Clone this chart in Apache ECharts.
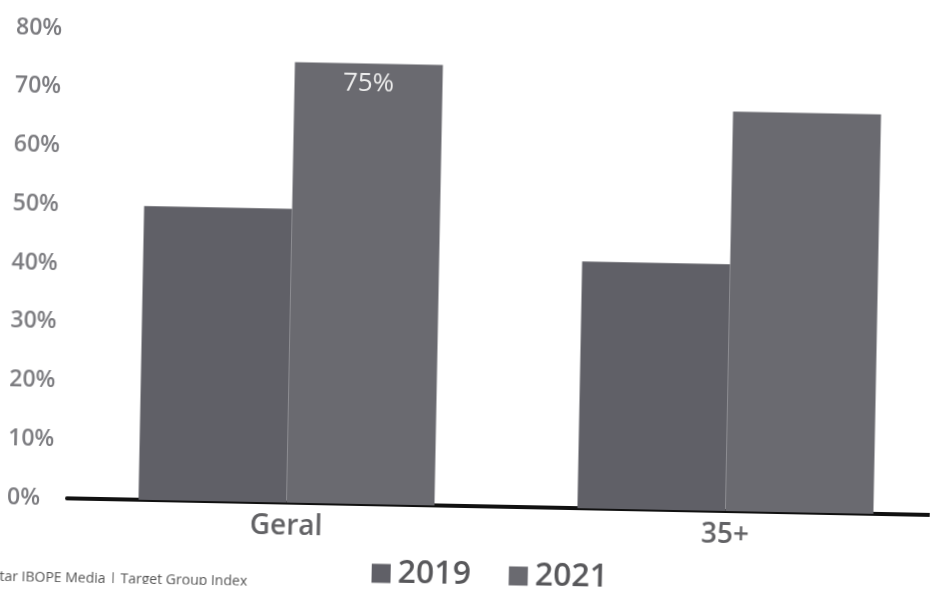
<!DOCTYPE html>
<html>
<head>
<meta charset="utf-8">
<script src="https://cdn.jsdelivr.net/npm/echarts@6/dist/echarts.min.js"></script>
<style>
  html, body { margin: 0; padding: 0; background: #ffffff; overflow: hidden; }
  #chart { width: 934px; height: 590px; transform: rotate(1.1deg); transform-origin: 50% 50%; }
</style>
</head>
<body>
<div id="chart"></div>
<script>
// Categories, series and tick settings
const categories = ['Geral', '35+'];
const years = ['2019', '2021'];
const values2019 = [50, 42];
const values2021 = [75, 68];
// which bars carry a value label (per category) for the 2021 series
const labelled2021 = [true, false];
const yTicks = { min: 0, max: 80, step: 10 };
const sourceNote = 'Kantar IBOPE Media | Target Group Index';

const colors = ['#606067', '#6a6a70'];
const font = '"Open Sans", "Noto Sans", sans-serif';

const chart = echarts.init(document.getElementById('chart'), null, { renderer: 'canvas' });

chart.setOption({
  animation: false,
  backgroundColor: '#ffffff',
  color: colors,
  // the plot runs past the right edge, so the axis line reaches the border
  grid: { left: 71, width: 878, top: 36, bottom: 84, containLabel: false, outerBoundsMode: 'none' },
  legend: {
    data: years,
    bottom: -6,
    left: 372,
    itemWidth: 19,
    itemHeight: 19,
    itemGap: 38,
    icon: 'rect',
    textStyle: { fontFamily: font, fontSize: 32, fontWeight: 600, color: '#58585b', padding: [0, 0, 0, 2] }
  },
  xAxis: {
    type: 'category',
    data: categories,
    axisLine: { show: true, lineStyle: { color: '#111111', width: 4 } },
    axisTick: { show: false },
    axisLabel: { fontFamily: font, fontSize: 28, color: '#626265', margin: 10, fontWeight: 600 }
  },
  yAxis: {
    type: 'value',
    min: yTicks.min,
    max: yTicks.max,
    interval: yTicks.step,
    axisLine: { show: false },
    axisTick: { show: false },
    splitLine: { show: false },
    axisLabel: {
      formatter: v => v + '%',
      fontFamily: font,
      fontSize: 23,
      fontWeight: 600,
      color: '#7c7c80',
      align: 'left',
      margin: 60
    }
  },
  series: [
    {
      name: years[0],
      type: 'bar',
      data: values2019,
      barWidth: 148,
      barGap: '0%',
      itemStyle: { color: colors[0] }
    },
    {
      name: years[1],
      type: 'bar',
      data: values2021.map((v, i) => ({
        value: v,
        label: {
          show: labelled2021[i],
          position: 'insideTop',
          distance: 7,
          formatter: '{c}%',
          fontFamily: font,
          fontSize: 26,
          color: '#ececec'
        }
      })),
      barWidth: 148,
      barGap: '0%',
      itemStyle: { color: colors[1] }
    }
  ],
  graphic: [
    {
      type: 'text',
      left: -20,
      bottom: -3,
      style: { text: sourceNote, fontFamily: font, fontSize: 14, fill: '#555555' }
    }
  ]
});
</script>
</body>
</html>
